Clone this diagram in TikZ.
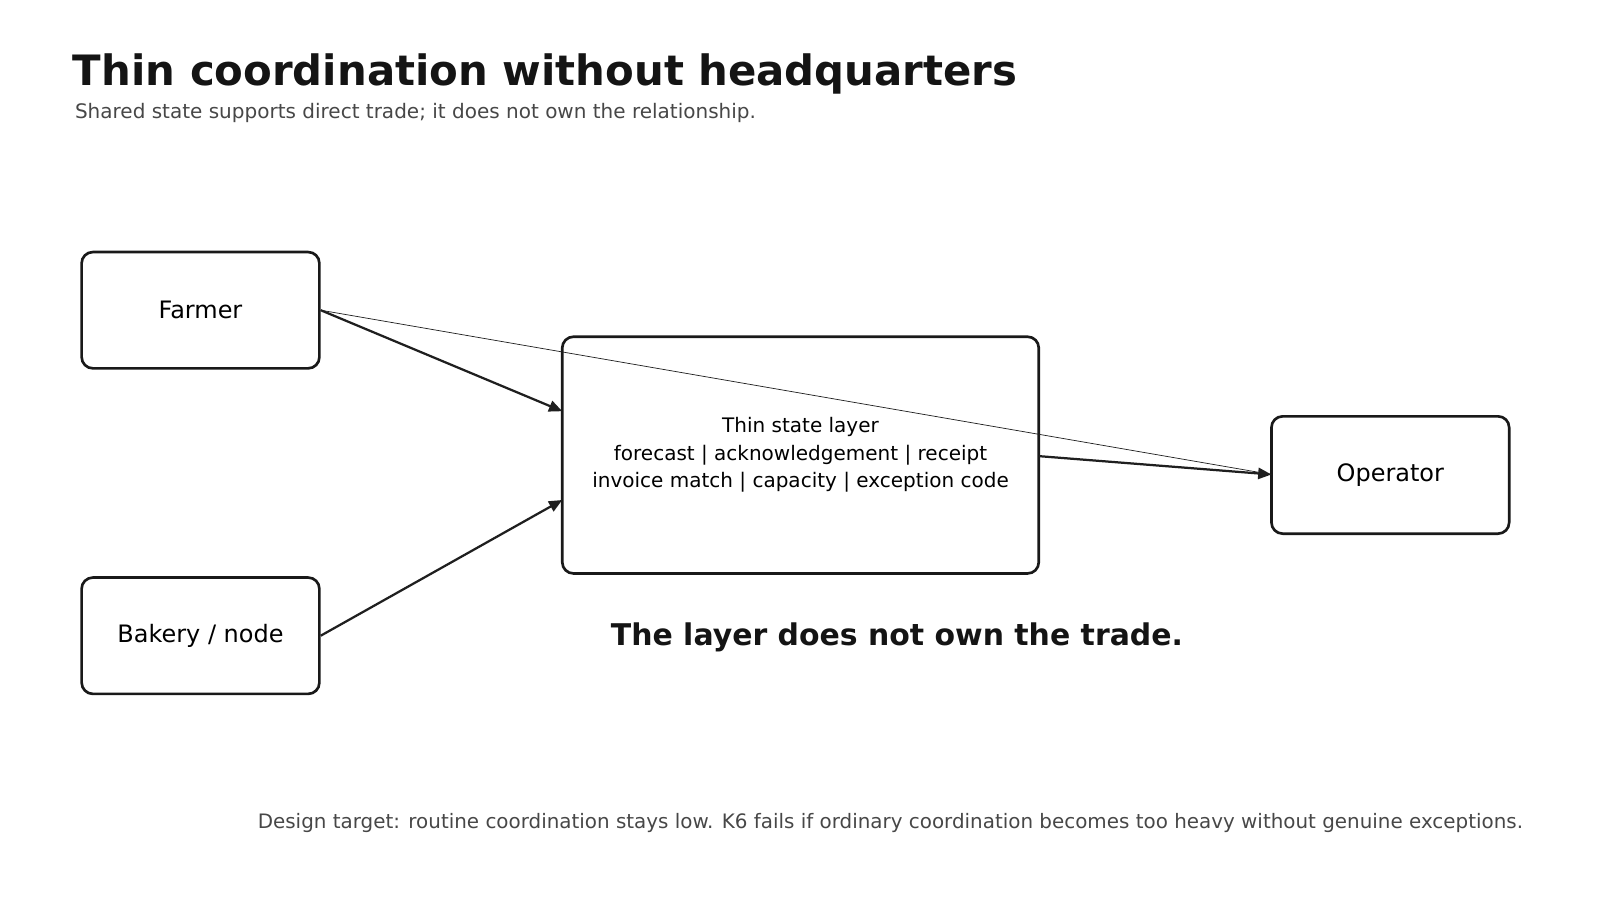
\documentclass[tikz,border=0pt]{standalone}
\usepackage{fontspec}
\setmainfont{DejaVu Sans}
\usetikzlibrary{arrows.meta}
\begin{document}
\begin{tikzpicture}[x=1pt,y=-1pt,
  box/.style={draw=black!90,line width=2.6pt,rounded corners=11pt,fill=white,align=center,inner sep=0pt},
  arr/.style={draw=black!88,line width=2.2pt,-{Triangle[length=13pt,width=11pt]}},
  thin/.style={draw=black!88,line width=0.7pt}]
\useasboundingbox (0,0) rectangle (1568,882);
\node[anchor=base west,font=\fontsize{41}{48}\selectfont\bfseries,text=black!92] (title) at (68,84) {Thin coordination without headquarters};
\node[anchor=base west,font=\fontsize{19.6}{23}\selectfont,text=black!72] (sub) at (70,116) {Shared state supports direct trade; it does not own the relationship.};
\node[box,minimum width=233pt,minimum height=114pt,font=\fontsize{23.5}{28}\selectfont] (farmer) at (196.5,304) {Farmer};
\node[box,minimum width=233pt,minimum height=114pt,font=\fontsize{23.5}{28}\selectfont] (bakery) at (196.5,623) {Bakery / node};
\node[box,minimum width=467pt,minimum height=232pt,font=\fontsize{19.6}{27}\selectfont] (mid) at (784.5,446) {Thin state layer\\forecast | acknowledgement | receipt\\invoice match | capacity | exception code};
\node[box,minimum width=233pt,minimum height=115pt,font=\fontsize{23.5}{28}\selectfont] (op) at (1362.5,465.5) {Operator};
\coordinate (m1) at (551,403);
\coordinate (m2) at (551,490);
\coordinate (m3) at (1018,447);
\coordinate (o1) at (1246,465);
\draw[thin] (farmer.east) -- (o1);
\draw[arr] (farmer.east) -- (m1);
\draw[arr] (bakery.east) -- (m2);
\draw[arr] (m3) -- (o1);
\node[font=\fontsize{29.3}{34}\selectfont\bfseries,text=black!92] (note) at (879,625) {The layer does not own the trade.};
\node[anchor=base east,font=\fontsize{19.5}{23}\selectfont,text=black!72] (foot) at (1496,812) {Design target: routine coordination stays low. K6 fails if ordinary coordination becomes too heavy without genuine exceptions.};
\end{tikzpicture}
\end{document}
